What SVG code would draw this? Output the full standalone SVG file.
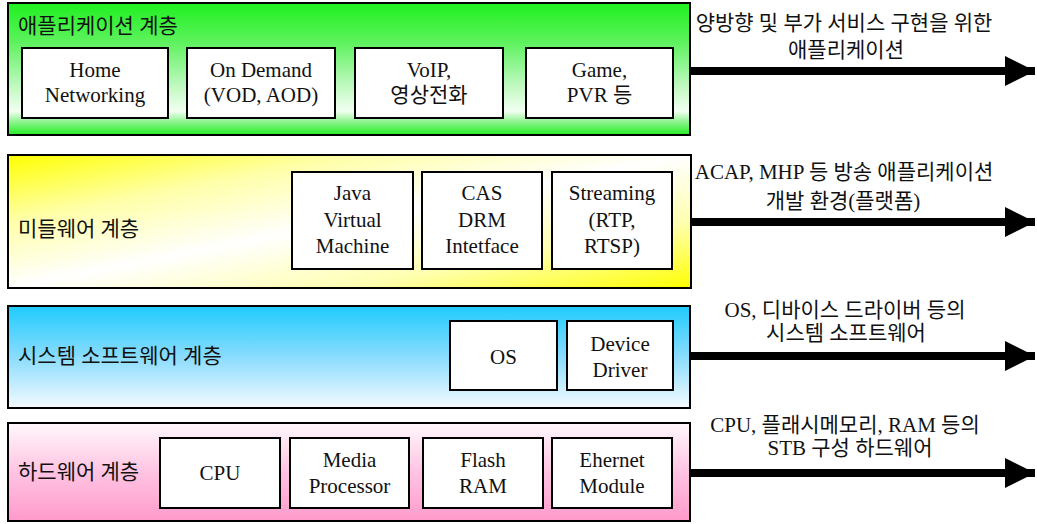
<svg xmlns="http://www.w3.org/2000/svg" width="1037" height="524" viewBox="0 0 1037 524">
  <defs>
    <!-- layer fills -->
    <linearGradient id="gApp" x1="0" y1="0" x2="0" y2="1">
      <stop offset="0" stop-color="#1ff01f"/>
      <stop offset="0.3" stop-color="#5ef25e"/>
      <stop offset="0.6" stop-color="#b8f8b8"/>
      <stop offset="0.82" stop-color="#f2fff2"/>
      <stop offset="0.9" stop-color="#8ef48e"/>
      <stop offset="1" stop-color="#22ee22"/>
    </linearGradient>
    <linearGradient id="gMid" x1="0" y1="0" x2="1" y2="1">
      <stop offset="0" stop-color="#ffff00"/>
      <stop offset="0.25" stop-color="#ffffa8"/>
      <stop offset="0.5" stop-color="#ffffff"/>
      <stop offset="0.75" stop-color="#ffffb0"/>
      <stop offset="1" stop-color="#ffff00"/>
    </linearGradient>
    <linearGradient id="gSys" x1="0" y1="0" x2="0" y2="1">
      <stop offset="0" stop-color="#1ecbfd"/>
      <stop offset="0.5" stop-color="#8adcfd"/>
      <stop offset="1" stop-color="#f4fbff"/>
    </linearGradient>
    <linearGradient id="gHw" x1="0" y1="0" x2="0" y2="1">
      <stop offset="0" stop-color="#fff8fc"/>
      <stop offset="0.5" stop-color="#ffc4e2"/>
      <stop offset="1" stop-color="#ff9acb"/>
    </linearGradient>
    <marker id="head" viewBox="0 0 30 30" refX="30" refY="15" markerUnits="userSpaceOnUse" markerWidth="30" markerHeight="30" orient="auto">
      <path d="M0,0 L30,15 L0,30 Z" fill="#000"/>
    </marker>
  </defs>
  <style>
    .layer { stroke: #000; stroke-width: 2; }
    .box { fill: #fff; stroke: #000; stroke-width: 2; }
    text { font-family: "Liberation Serif", "Noto Sans CJK KR", serif; fill: #111; }
    .title { font-size: 21px; }
    .lbl { font-size: 21px; text-anchor: middle; }
    .note { font-size: 21px; text-anchor: middle; }
    .arrow { stroke: #000; stroke-width: 8; fill: none; }
  </style>

  <!-- application layer -->
  <g id="app-layer">
    <rect class="layer" x="8" y="3" width="682" height="132" fill="url(#gApp)"/>
    <text class="title" x="18" y="33">애플리케이션 계층</text>
  </g>
  <g id="home-networking">
    <rect class="box" x="22" y="48" width="146" height="70"/>
    <text class="lbl" x="95" y="77">Home</text>
    <text class="lbl" x="95" y="102">Networking</text>
  </g>
  <g id="on-demand">
    <rect class="box" x="187" y="48" width="148" height="70"/>
    <text class="lbl" x="261" y="77">On Demand</text>
    <text class="lbl" x="261" y="102">(VOD, AOD)</text>
  </g>
  <g id="voip">
    <rect class="box" x="355" y="48" width="148" height="70"/>
    <text class="lbl" x="429" y="77">VoIP,</text>
    <text class="lbl" x="429" y="102">영상전화</text>
  </g>
  <g id="game">
    <rect class="box" x="526" y="48" width="147" height="70"/>
    <text class="lbl" x="599.5" y="77">Game,</text>
    <text class="lbl" x="599.5" y="102">PVR 등</text>
  </g>

  <!-- middleware layer -->
  <g id="mid-layer">
    <rect class="layer" x="8" y="155" width="683" height="133" fill="url(#gMid)"/>
    <text class="title" x="18" y="236">미들웨어 계층</text>
  </g>
  <g id="jvm">
    <rect class="box" x="292" y="172" width="121" height="97"/>
    <text class="lbl" x="352.5" y="200">Java</text>
    <text class="lbl" x="352.5" y="227">Virtual</text>
    <text class="lbl" x="352.5" y="253">Machine</text>
  </g>
  <g id="cas-drm">
    <rect class="box" x="422" y="172" width="120" height="97"/>
    <text class="lbl" x="482" y="200">CAS</text>
    <text class="lbl" x="482" y="227">DRM</text>
    <text class="lbl" x="482" y="253">Intetface</text>
  </g>
  <g id="streaming">
    <rect class="box" x="552" y="172" width="120" height="97"/>
    <text class="lbl" x="612" y="200">Streaming</text>
    <text class="lbl" x="612" y="227">(RTP,</text>
    <text class="lbl" x="612" y="253">RTSP)</text>
  </g>

  <!-- system software layer -->
  <g id="sys-layer">
    <rect class="layer" x="8" y="306" width="682" height="102" fill="url(#gSys)"/>
    <text class="title" x="18" y="363">시스템 소프트웨어 계층</text>
  </g>
  <g id="os">
    <rect class="box" x="450" y="321" width="107" height="69"/>
    <text class="lbl" x="503.5" y="364">OS</text>
  </g>
  <g id="device-driver">
    <rect class="box" x="567" y="321" width="106" height="69"/>
    <text class="lbl" x="620" y="351">Device</text>
    <text class="lbl" x="620" y="377">Driver</text>
  </g>

  <!-- hardware layer -->
  <g id="hw-layer">
    <rect class="layer" x="8" y="423" width="682" height="98" fill="url(#gHw)"/>
    <text class="title" x="18" y="479">하드웨어 계층</text>
  </g>
  <g id="cpu">
    <rect class="box" x="160" y="438" width="120" height="70"/>
    <text class="lbl" x="220" y="480">CPU</text>
  </g>
  <g id="media-processor">
    <rect class="box" x="290" y="438" width="119" height="70"/>
    <text class="lbl" x="349.5" y="467">Media</text>
    <text class="lbl" x="349.5" y="493">Processor</text>
  </g>
  <g id="flash-ram">
    <rect class="box" x="423" y="438" width="120" height="70"/>
    <text class="lbl" x="483" y="467">Flash</text>
    <text class="lbl" x="483" y="493">RAM</text>
  </g>
  <g id="ethernet">
    <rect class="box" x="552" y="438" width="120" height="70"/>
    <text class="lbl" x="612" y="467">Ehernet</text>
    <text class="lbl" x="612" y="493">Module</text>
  </g>

  <!-- outgoing arrows with their descriptions -->
  <g id="connectors">
    <line class="arrow" x1="690" y1="71" x2="1035" y2="71" marker-end="url(#head)"/>
    <line class="arrow" x1="691" y1="222" x2="1035" y2="222" marker-end="url(#head)"/>
    <line class="arrow" x1="690" y1="356" x2="1035" y2="356" marker-end="url(#head)"/>
    <line class="arrow" x1="690" y1="473" x2="1035" y2="473" marker-end="url(#head)"/>
    <text class="note" x="844" y="30">양방향 및 부가 서비스 구현을 위한</text>
    <text class="note" x="846" y="57">애플리케이션</text>
    <text class="note" x="844" y="179">ACAP, MHP 등 방송 애플리케이션</text>
    <text class="note" x="843" y="208">개발 환경(플랫폼)</text>
    <text class="note" x="845" y="317">OS, 디바이스 드라이버 등의</text>
    <text class="note" x="846" y="340">시스템 소프트웨어</text>
    <text class="note" x="845" y="432">CPU, 플래시메모리, RAM 등의</text>
    <text class="note" x="850" y="455">STB 구성 하드웨어</text>
  </g>
</svg>
